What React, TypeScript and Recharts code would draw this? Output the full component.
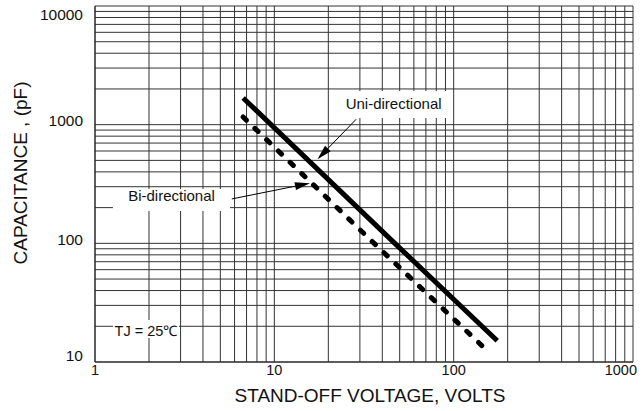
import React from "react";
import {
  LineChart,
  Line,
  XAxis,
  YAxis,
  CartesianGrid,
  ReferenceArea,
  ReferenceLine,
} from "recharts";

// log grid ticks (every 1..9 per decade)
const xTicks = [1, 2, 3, 4, 5, 6, 7, 8, 9, 10, 20, 30, 40, 50, 60, 70, 80, 90, 100, 200, 300, 400, 500, 600, 700, 800, 900, 1000];
const yTicks = [10, 20, 30, 40, 50, 60, 70, 80, 90, 100, 200, 300, 400, 500, 600, 700, 800, 900, 1000, 2000, 3000, 4000, 5000, 6000, 7000, 8000, 9000, 10000];
const xLabels = [1, 10, 100, 1000];
const yLabels = [10, 100, 1000, 10000];

// capacitance (pF) vs stand-off voltage (V)
const uniData = [
  { v: 6.7, c: 1680 },
  { v: 47, c: 100 },
  { v: 175, c: 15.1 },
];
const biData = [
  { v: 6.7, c: 1160 },
  { v: 36, c: 100 },
  { v: 156, c: 12.2 },
];

const FONT = '"Liberation Sans", Arial, Helvetica, sans-serif';

function XTick(props: any) {
  const { x, y, payload } = props;
  if (!xLabels.includes(payload.value)) return null;
  const last = payload.value === 1000;
  return (
    <text x={last ? x + 4 : x} y={y} dy="0.71em" textAnchor={last ? "end" : "middle"} fontSize={14.5} fill="#111">
      {payload.value}
    </text>
  );
}

function YTick(props: any) {
  const { x, y, payload } = props;
  if (!yLabels.includes(payload.value)) return null;
  const off = payload.value === 10 ? -7 : payload.value === 10000 ? 8 : -4;
  return (
    <text x={x} y={y + off} dy="0.355em" textAnchor="end" fontSize={15.5} fill="#111">
      {payload.value}
    </text>
  );
}

function Arrow(props: any) {
  const { x1, y1, x2, y2 } = props;
  const a = Math.atan2(y2 - y1, x2 - x1);
  const len = 15;
  const half = 4;
  const bx = x2 - len * Math.cos(a);
  const by = y2 - len * Math.sin(a);
  const pts = [
    [x2, y2],
    [bx + half * Math.sin(a), by - half * Math.cos(a)],
    [bx - half * Math.sin(a), by + half * Math.cos(a)],
  ]
    .map((p) => p.join(","))
    .join(" ");
  return (
    <g>
      <line x1={x1} y1={y1} x2={bx} y2={by} stroke="#000" strokeWidth={1} />
      <polygon points={pts} fill="#000" />
    </g>
  );
}

function YTitle(props: any) {
  const { viewBox } = props;
  const cx = viewBox.x + 27;
  const cy = viewBox.y + viewBox.height / 2 - 11;
  return (
    <text x={cx} y={cy} transform={`rotate(-90, ${cx}, ${cy})`} textAnchor="middle" fontSize={19} fill="#111">
      CAPACITANCE , (pF)
    </text>
  );
}

export default function App() {
  return (
    <div style={{ position: "absolute", left: 0, top: 0, background: "#fff", fontFamily: FONT }}>
      <LineChart width={644} height={411} margin={{ top: 6, right: 11, bottom: 0, left: 0 }}>
        <CartesianGrid stroke="#333" strokeWidth={1} />
        <XAxis
          dataKey="v"
          type="number"
          scale="log"
          domain={[1, 1000]}
          ticks={xTicks}
          interval={0}
          allowDataOverflow
          height={49}
          tickSize={0}
          tickMargin={3}
          tickLine={false}
          axisLine={{ stroke: "#222" }}
          tick={<XTick />}
          label={{ value: "STAND-OFF VOLTAGE, VOLTS", position: "insideBottom", offset: 9, dx: 6, fontSize: 19, fill: "#111" }}
        />
        <YAxis
          dataKey="c"
          type="number"
          scale="log"
          domain={[10, 10000]}
          ticks={yTicks}
          interval={0}
          allowDataOverflow
          width={95}
          tickSize={0}
          tickMargin={12}
          tickLine={false}
          axisLine={{ stroke: "#222" }}
          tick={<YTick />}
          label={<YTitle />}
        />
        <ReferenceArea
          x1={1.26}
          x2={5.66}
          y1={187.5}
          y2={287}
          fill="#fff"
          fillOpacity={1}
          stroke="none"
          label={{ value: "Bi-directional", position: "center", dy: -4, fontSize: 15, fill: "#111" }}
        />
        <ReferenceArea
          x1={22.7}
          x2={91.9}
          y1={1138}
          y2={1923}
          fill="#fff"
          fillOpacity={1}
          stroke="none"
          label={{ value: "Uni-directional", position: "center", dx: 1, dy: -1, fontSize: 15, fill: "#111" }}
        />
        <ReferenceArea
          x1={1.26}
          x2={2.94}
          y1={15.96}
          y2={22.6}
          fill="#fff"
          fillOpacity={1}
          stroke="none"
          label={{ value: "TJ = 25℃", position: "center", dy: 2, fontSize: 14.5, fill: "#111" }}
        />
        <ReferenceLine segment={[{ x: 28.6, y: 1111 }, { x: 17.4, y: 511 }]} shape={<Arrow />} />
        <ReferenceLine segment={[{ x: 5.79, y: 236.6 }, { x: 15.8, y: 321 }]} shape={<Arrow />} />
        <Line
          data={uniData}
          dataKey="c"
          type="linear"
          stroke="#000"
          strokeWidth={5}
          dot={false}
          isAnimationActive={false}
        />
        <Line
          data={biData}
          dataKey="c"
          type="linear"
          stroke="#000"
          strokeWidth={5}
          strokeDasharray="4.5 11.8"
          strokeLinecap="round"
          dot={false}
          isAnimationActive={false}
        />
      </LineChart>
    </div>
  );
}
